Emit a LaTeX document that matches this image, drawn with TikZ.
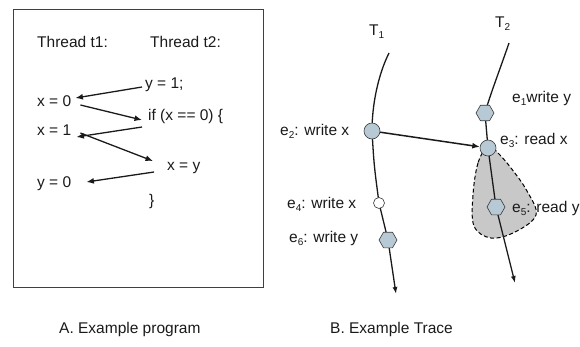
\documentclass[tikz,border=0pt]{standalone}
\usepackage{fontspec}
\setmainfont{Liberation Sans}
\usetikzlibrary{shapes.geometric,arrows.meta,backgrounds}
\definecolor{evfill}{HTML}{B7C9D4}
\definecolor{evdraw}{HTML}{3A3A3A}
\definecolor{blob}{HTML}{C8C8C8}
\definecolor{ink}{HTML}{1A1A1A}
\newcommand\lowsub[1]{\raisebox{-3.5pt}{\fontsize{10}{10}\selectfont #1}}
\begin{document}
\begin{tikzpicture}[x=1pt,y=-1pt,
  txt/.style={font=\fontsize{15.5}{18}\selectfont, text=ink, inner sep=1pt, anchor=west, text height=11.5pt, text depth=3.5pt},
  arr/.style={-{Latex[length=7.5pt,width=6pt]}, line width=1.3pt, draw=ink},
  thr/.style={-{Latex[length=7pt,width=5pt]}, line width=1.3pt, draw=ink},
  hexa/.style={regular polygon, regular polygon sides=6, minimum size=18pt, inner sep=0pt, fill=evfill, draw=evdraw, line width=0.6pt},
  circ/.style={circle, minimum size=16pt, inner sep=0pt, fill=evfill, draw=evdraw, line width=0.6pt},
  wcirc/.style={circle, minimum size=11pt, inner sep=0pt, fill=white, draw=evdraw, line width=0.6pt}]
\useasboundingbox (0,0) rectangle (580,346);

% left panel
\draw[line width=0.9pt, draw=black!75] (13,9) rectangle (263,287);
\node[txt] (th1) at (36,43) {Thread t1:};
\node[txt] (th2) at (149,43) {Thread t2:};
\node[txt] (y1) at (144,84) {y = 1;};
\node[txt] (x0) at (36,102) {x = 0};
\node[txt] (if) at (147,116) {if (x == 0) \{};
\node[txt] (x1) at (36,131) {x = 1};
\node[txt] (xy) at (166,166) {x = y};
\node[txt] (y0) at (36,183) {y = 0};
\node[txt] (cb) at (148,201) {\}};

\draw[arr] ([shift={(-2,3)}]y1.west) -- ([shift={(3,-4)}]x0.east);
\draw[arr] ([shift={(8,3)}]x0.east) -- ([shift={(-5,4)}]if.west);
\draw[arr] ([shift={(-5,11)}]if.west) -- ([shift={(4,6)}]x1.east);
\draw[arr] ([shift={(8,2)}]x1.east) -- ([shift={(-13,-5)}]xy.west);
\draw[arr] ([shift={(-12,6)}]xy.west) -- ([shift={(14,-1)}]y0.east);

% right panel
\node[hexa] (e1) at (485,113) {};
\node[circ] (e2) at (372,131) {};
\node[circ] (e3) at (488,148) {};
\node[wcirc] (e4) at (379,203) {};
\node[hexa] (e5) at (496,207) {};
\node[hexa] (e6) at (388,240) {};
\coordinate (t1s) at (389,53);
\coordinate (t1e) at (396,294);
\coordinate (t2s) at (509,43);
\coordinate (t2e) at (515,283);

\begin{pgfonlayer}{background}
  \fill[blob] plot[smooth cycle, tension=0.6] coordinates {(488,146) (478,163) (473,195) (474,226) (491,238) (515,232) (536,215) (527,191) (511,168) (497,152)};
  \draw[dashed, line width=1pt, dash pattern=on 4pt off 2.5pt] plot[smooth cycle, tension=0.6] coordinates {(488,146) (478,163) (473,195) (474,226) (491,238) (515,232) (536,215) (527,191) (511,168) (497,152)};
  \draw[thr] (t1s) .. controls (378,75) and (372,105) .. (e2.center) .. controls (374,165) .. (e4.center) -- (e6.center) -- (t1e);
  \draw[thr] (t2s) .. controls (499,72) and (490,95) .. (e1.center) -- (e3.center) -- (e5.center) -- (t2e);
\end{pgfonlayer}

\draw[arr, line width=1.5pt] (e2) -- (e3);

\node[txt] (T1) at (368,31) {T\lowsub{1}};
\node[txt] (T2) at (494,23) {T\lowsub{2}};
\node[txt] (l1) at (511,98) {e\lowsub{1}write y};
\node[txt] (l2) at (279,131) {e\lowsub{2}: write x};
\node[txt] (l3) at (499,140) {e\lowsub{3}: read x};
\node[txt] (l4) at (286,204) {e\lowsub{4}: write x};
\node[txt] (l5) at (511,208) {e\lowsub{5}: read y};
\node[txt] (l6) at (288,238) {e\lowsub{6}: write y};

\node[txt] (capA) at (58,329) {A. Example program};
\node[txt] (capB) at (329,329) {B. Example Trace};
\end{tikzpicture}
\end{document}
